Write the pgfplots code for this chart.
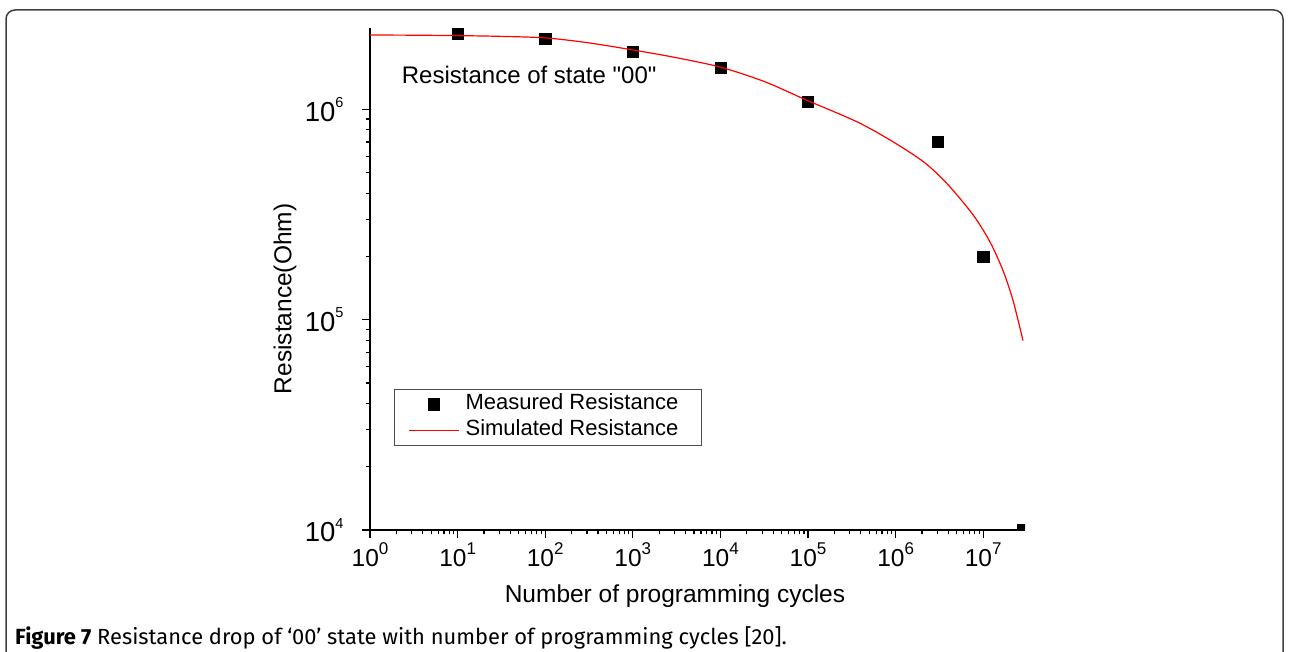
\documentclass[border=0pt]{standalone}
\usepackage{fontspec}
\setmainfont{Liberation Sans}
\newfontfamily\capfont{Fira Sans}
\newfontfamily\qfont{Liberation Sans}[Ligatures=TeXOff]
\usepackage{pgfplots}
\pgfplotsset{compat=1.18}
\pgfplotsset{
  measleg/.style={legend image code/.code={\draw[mark repeat=2,mark phase=2,##1] plot coordinates {(0pt,0pt) (25pt,0pt) (50pt,0pt)};}},
  simleg/.style={legend image code/.code={\draw[##1] (0pt,0pt) -- (50pt,0pt);}},
}
\newcommand\xsup[1]{\raisebox{12pt}{\fontsize{17}{17}\selectfont #1}}
\newcommand\ysup[1]{\raisebox{13.5pt}{\fontsize{14.5}{15}\selectfont #1}}
\pgfplotstableread{
N R
1 2.26e6
3 2.256e6
10 2.245e6
30 2.228e6
100 2.19e6
300 2.08e6
1000 1.92e6
3000 1.77e6
1e4 1.59e6
3e4 1.37e6
6.23e4 1.202e6
1e5 1.10e6
3.6e5 8.75e5
8.63e5 7.16e5
2.07e6 5.65e5
3.86e6 4.44e5
7.65e6 3.157e5
1.196e7 2.343e5
1.683e7 1.713e5
2.19e7 1.234e5
2.845e7 7.96e4
}\simtable
\pgfplotstableread{
N R
10 2.29e6
100 2.18e6
1000 1.88e6
1e4 1.58e6
1e5 1.09e6
3e6 7.0e5
1e7 2.0e5
2.8e7 1.0e4
}\meastable
\begin{document}
\begin{tikzpicture}
\useasboundingbox (0,0) rectangle (1289pt,652pt);
\draw[line width=1.5pt, black!75, rounded corners=9pt] (6pt,-5pt) -- (6pt,642pt) -- (1283pt,642pt) -- (1283pt,-5pt);
\begin{axis}[
  at={(370pt,122pt)}, anchor=south west,
  scale only axis, width=655pt, height=502.4pt,
  xmode=log, ymode=log, log basis x=10, log basis y=10,
  xmin=1, xmax=3e7, ymin=1e4, ymax=2.452e6,
  clip marker paths=true,
  axis x line*=bottom, axis y line*=left,
  axis line style={line width=1.5pt, black},
  tick align=outside, major tick length=8pt, minor tick length=4.5pt,
  every tick/.style={black, line width=1.2pt},
  xticklabel={\pgfmathparse{int(round(\tick))}10\xsup{\pgfmathresult}},
  yticklabel={\pgfmathparse{int(round(\tick))}10\ysup{\pgfmathresult}},
  xticklabel style={font=\fontsize{24.5}{28}\selectfont, yshift=-1pt},
  yticklabel style={font=\fontsize{27.5}{30}\selectfont, xshift=-15pt, yshift=0pt},
  xlabel={Number of programming cycles},
  ylabel={Resistance(Ohm)},
  every axis x label/.style={at={(axis description cs:0.4656,0)}, anchor=base, yshift=-73pt, font=\fontsize{24.5}{28}\selectfont},
  every axis y label/.style={at={(axis description cs:-0.1298,0.46)}, rotate=90, anchor=center, font=\fontsize{24.5}{28}\selectfont},
  legend style={at={(0.0366,0.2807)}, anchor=north west, draw=black!70, line width=0.8pt,
    font=\fontsize{22}{24}\selectfont, inner xsep=14pt, inner ysep=2pt, row sep=0pt,
    cells={anchor=west}, nodes={text height=17pt, text depth=6pt, inner ysep=1.5pt},
    /tikz/every odd column/.append style={column sep=4pt}},
]
\addplot[only marks, mark=square*, mark size=5.6pt, black, measleg]
  table[x=N,y=R] {\meastable};
\addlegendentry{Measured Resistance\hspace*{7pt}}
\addplot[red, line width=1.2pt, smooth, tension=0.5, no marks, simleg]
  table[x=N,y=R] {\simtable};
\addlegendentry{Simulated Resistance\hspace*{7pt}}
\end{axis}
\node[anchor=base west, font=\qfont\fontsize{24}{28}\selectfont, inner sep=0pt] at (401.7pt,568pt) {Resistance of state "00"};
\node[anchor=base west, font=\capfont\fontsize{21.9}{24}\selectfont, inner sep=0pt] at (15pt,7pt) {\textbf{Figure 7} Resistance drop of ‘00’ state with number of programming cycles [20].};
\end{tikzpicture}
\end{document}
